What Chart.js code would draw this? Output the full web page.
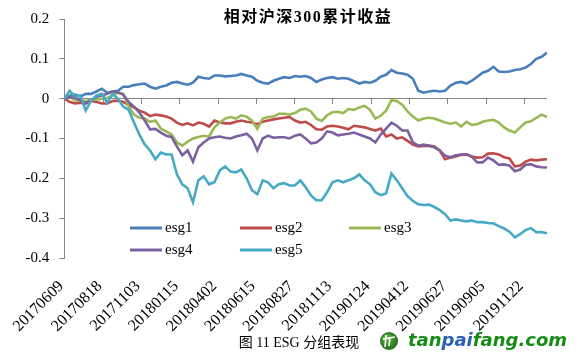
<!DOCTYPE html>
<html>
<head>
<meta charset="utf-8">
<script src="https://cdn.jsdelivr.net/npm/chart.js@4.4.0/dist/chart.umd.min.js"></script>
<style>
  html, body { margin: 0; padding: 0; background: #ffffff; }
</style>
</head>
<body>
<canvas id="esgGraf" width="577" height="361"></canvas>
<script>
// Handelsdag for hvert punkt (et punkt pr. 7 handelsdage)
var sampleDays = [];
for (var i = 0; i <= 90; i++) sampleDays.push(i * 7);

// Datolabels, en for hver 50. handelsdag
var tickLabels = ["20170609", "20170818", "20171103", "20180115", "20180402", "20180615", "20180827",
  "20181113", "20190124", "20190412", "20190627", "20190905", "20191122"];

var seriesNames = ["esg1", "esg2", "esg3", "esg4", "esg5"];
var seriesColors = ["#4a7ebb", "#be4b48", "#98b954", "#7d60a0", "#46aac5"];

var esg1 = [0, 0.008, 0.01, 0.005, 0.012, 0.012, 0.018, 0.025, 0.015, 0.018,
  0.02, 0.03, 0.03, 0.034, 0.036, 0.038, 0.03, 0.025, 0.03, 0.033,
  0.04, 0.042, 0.038, 0.035, 0.04, 0.055, 0.052, 0.05, 0.058, 0.058,
  0.056, 0.057, 0.058, 0.062, 0.058, 0.055, 0.045, 0.04, 0.038, 0.045,
  0.05, 0.054, 0.052, 0.057, 0.055, 0.057, 0.052, 0.042, 0.048, 0.052,
  0.054, 0.05, 0.052, 0.05, 0.044, 0.038, 0.042, 0.04, 0.045, 0.055,
  0.06, 0.072, 0.065, 0.063, 0.06, 0.05, 0.02, 0.015, 0.018, 0.02,
  0.018, 0.02, 0.033, 0.04, 0.042, 0.038, 0.045, 0.055, 0.065, 0.07,
  0.08, 0.068, 0.067, 0.068, 0.072, 0.074, 0.078, 0.087, 0.1, 0.105,
  0.116];

var esg2 = [0, -0.008, -0.012, -0.01, -0.012, -0.006, -0.008, -0.012, -0.012, -0.006,
  -0.005, -0.008, -0.016, -0.022, -0.03, -0.035, -0.044, -0.04, -0.042, -0.045,
  -0.05, -0.06, -0.066, -0.062, -0.067, -0.06, -0.063, -0.07, -0.055, -0.06,
  -0.062, -0.062, -0.058, -0.055, -0.058, -0.06, -0.064, -0.058, -0.055, -0.052,
  -0.05, -0.048, -0.046, -0.055, -0.06, -0.058, -0.066, -0.077, -0.078, -0.07,
  -0.068, -0.07, -0.073, -0.077, -0.068, -0.07, -0.072, -0.076, -0.08, -0.075,
  -0.095, -0.09, -0.1, -0.097, -0.106, -0.115, -0.12, -0.119, -0.118, -0.12,
  -0.13, -0.152, -0.148, -0.145, -0.141, -0.14, -0.145, -0.148, -0.147, -0.138,
  -0.137, -0.14, -0.147, -0.15, -0.17, -0.168, -0.158, -0.153, -0.155, -0.153,
  -0.152];

var esg3 = [0, 0.005, -0.004, -0.005, -0.006, -0.003, -0.002, 0, 0.002, 0.008,
  0.015, 0.012, -0.02, -0.04, -0.048, -0.05, -0.058, -0.055, -0.075, -0.082,
  -0.09, -0.11, -0.118, -0.108, -0.1, -0.096, -0.093, -0.095, -0.072, -0.06,
  -0.05, -0.046, -0.05, -0.042, -0.045, -0.055, -0.076, -0.05, -0.046, -0.045,
  -0.038, -0.038, -0.04, -0.036, -0.028, -0.025, -0.032, -0.05, -0.056, -0.042,
  -0.034, -0.033, -0.036, -0.026, -0.028, -0.022, -0.018, -0.028, -0.05, -0.043,
  -0.03, -0.004, -0.006, -0.015, -0.032, -0.045, -0.055, -0.05, -0.048, -0.05,
  -0.055, -0.06, -0.063, -0.06, -0.07, -0.058, -0.066, -0.064, -0.058, -0.055,
  -0.053, -0.06, -0.072, -0.08, -0.085, -0.072, -0.06, -0.057, -0.048, -0.04,
  -0.046];

var esg4 = [0, 0.004, 0.002, -0.004, -0.012, -0.004, 0.005, 0.008, 0.012, 0.018,
  0.016, 0.01, -0.008, -0.02, -0.035, -0.055, -0.077, -0.076, -0.085, -0.093,
  -0.096, -0.12, -0.142, -0.13, -0.158, -0.122, -0.11, -0.1, -0.097, -0.095,
  -0.098, -0.1, -0.095, -0.092, -0.088, -0.1, -0.13, -0.1, -0.093, -0.098,
  -0.097, -0.097, -0.1, -0.093, -0.09, -0.1, -0.112, -0.11, -0.1, -0.082,
  -0.085, -0.092, -0.09, -0.088, -0.085, -0.09, -0.095, -0.1, -0.11, -0.09,
  -0.075, -0.06, -0.068, -0.08, -0.08, -0.11, -0.118, -0.115, -0.118, -0.122,
  -0.13, -0.143, -0.147, -0.142, -0.14, -0.14, -0.146, -0.16, -0.16, -0.148,
  -0.155, -0.166, -0.165, -0.168, -0.182, -0.178, -0.166, -0.165, -0.17, -0.172,
  -0.173];

var esg5 = [0, 0.02, 0.006, 0.008, -0.03, -0.005, 0.008, 0.012, -0.01, 0.012,
  0, -0.02, -0.028, -0.06, -0.09, -0.115, -0.13, -0.152, -0.135, -0.14,
  -0.14, -0.19, -0.215, -0.225, -0.26, -0.205, -0.195, -0.215, -0.21, -0.18,
  -0.17, -0.183, -0.185, -0.178, -0.2, -0.23, -0.24, -0.205, -0.21, -0.225,
  -0.215, -0.212, -0.218, -0.218, -0.205, -0.222, -0.243, -0.255, -0.255, -0.235,
  -0.21, -0.205, -0.21, -0.205, -0.2, -0.19, -0.205, -0.215, -0.235, -0.242,
  -0.238, -0.188, -0.205, -0.225, -0.245, -0.257, -0.265, -0.267, -0.266, -0.272,
  -0.28, -0.29, -0.306, -0.303, -0.306, -0.308, -0.306, -0.31, -0.31, -0.312,
  -0.313, -0.32, -0.326, -0.334, -0.348, -0.34, -0.33, -0.325, -0.335, -0.335,
  -0.338];

var seriesValues = [esg1, esg2, esg3, esg4, esg5];

var axisGrey = "#868686";
var serif = "'Liberation Serif', 'Noto Sans CJK SC', serif";

// Lav datasets ud fra arrays
var datasets = seriesNames.map(function (name, i) {
  return {
    label: name,
    data: seriesValues[i].map(function (v, j) {
      return { x: sampleDays[j], y: v };
    }),
    borderColor: seriesColors[i],
    backgroundColor: seriesColors[i],
    borderWidth: 2.6,
    pointRadius: 0,
    tension: 0,
    order: 5 - i, // sidste serie tegnes oeverst
  };
});

// Titel, legend, tekst under grafen og smaa streger ved nul-linjen
var pynt = {
  id: "pynt",
  beforeDatasetsDraw: function (chart) {
    var ctx = chart.ctx;
    var xs = chart.scales.x;
    var y0 = Math.round(chart.scales.y.getPixelForValue(0));
    ctx.save();
    ctx.strokeStyle = axisGrey;
    ctx.lineWidth = 1;
    ctx.beginPath();
    tickLabels.forEach(function (_, i) {
      var px = Math.round(xs.getPixelForValue(i * 50)) + 0.5;
      ctx.moveTo(px, y0);
      ctx.lineTo(px, y0 + 5);
    });
    ctx.stroke();
    ctx.restore();
  },
  afterDraw: function (chart) {
    var ctx = chart.ctx;
    ctx.save();

    // titel
    ctx.fillStyle = "#000";
    ctx.font = "bold 16px " + serif;
    ctx.textAlign = "center";
    ctx.textBaseline = "middle";
    ctx.letterSpacing = "1.5px";
    ctx.fillText("相对沪深300累计收益", 308, 18);
    ctx.letterSpacing = "0px";

    // legend i to raekker
    var legendPos = [[130, 228], [240, 228], [349, 228], [130, 250], [240, 250]];
    ctx.font = "15px " + serif;
    ctx.textAlign = "left";
    chart.data.datasets.forEach(function (ds, i) {
      var p = legendPos[i];
      ctx.strokeStyle = ds.borderColor;
      ctx.lineWidth = 3;
      ctx.beginPath();
      ctx.moveTo(p[0], p[1]);
      ctx.lineTo(p[0] + 32, p[1]);
      ctx.stroke();
      ctx.fillStyle = "#000";
      ctx.fillText(ds.label, p[0] + 35, p[1]);
    });

    // tekst under grafen
    ctx.font = "14px " + serif;
    ctx.textAlign = "center";
    ctx.fillText("图 11 ESG 分组表现", 299, 343);

    // vandmaerke
    var grad = ctx.createRadialGradient(386, 337, 1, 389, 341, 9);
    grad.addColorStop(0, "#6cbf3a");
    grad.addColorStop(1, "#1f6e22");
    ctx.fillStyle = grad;
    ctx.beginPath();
    ctx.arc(389, 341, 9, 0, Math.PI * 2);
    ctx.fill();
    ctx.strokeStyle = "#ffffff";
    ctx.lineWidth = 1.5;
    ctx.beginPath();
    ctx.moveTo(386, 335);
    ctx.lineTo(385, 347);
    ctx.moveTo(383, 339);
    ctx.lineTo(395, 337);
    ctx.moveTo(390, 338);
    ctx.lineTo(389, 346);
    ctx.stroke();

    ctx.font = "bold italic 18px 'DejaVu Sans', sans-serif";
    ctx.textAlign = "left";
    ctx.textBaseline = "alphabetic";
    var parts = [["tan", "#168c16"], ["pai", "#2a5fb5"], ["fang.com", "#168c16"]];
    var full = ctx.measureText("tanpaifang.com").width;
    var scale = 159 / full;
    var tx = 408;
    parts.forEach(function (p) {
      var w = ctx.measureText(p[0]).width * scale;
      ctx.fillStyle = p[1];
      ctx.fillText(p[0], tx, 346, w);
      tx += w;
    });

    ctx.restore();
  },
};

var ctxEsg = document.getElementById("esgGraf").getContext("2d");

var esgGraf = new Chart(ctxEsg, {
  type: "line",
  data: { datasets: datasets },
  options: {
    responsive: false,
    animation: false,
    layout: { padding: { top: 14, right: 30, left: 0, bottom: 0 } },
    plugins: {
      legend: { display: false },
      tooltip: { enabled: false },
    },
    scales: {
      x: {
        type: "linear",
        min: 0,
        max: 630,
        afterFit: function (scale) {
          scale.height = 103;
        },
        grid: { display: false, drawTicks: false },
        border: { display: false },
        ticks: {
          stepSize: 50,
          autoSkip: false,
          includeBounds: false,
          minRotation: 45,
          maxRotation: 45,
          padding: 19,
          labelOffset: -3,
          color: "#000",
          font: { family: serif, size: 16 },
          callback: function (v) {
            return tickLabels[v / 50] || "";
          },
        },
      },
      y: {
        min: -0.4,
        max: 0.2,
        afterFit: function (scale) {
          scale.width = 51;
        },
        grid: {
          color: function (c) {
            return c.tick && Math.abs(c.tick.value) < 1e-9 ? axisGrey : "rgba(0,0,0,0)";
          },
          tickColor: axisGrey,
          tickLength: 5,
        },
        border: { color: axisGrey },
        ticks: {
          stepSize: 0.1,
          padding: 10,
          color: "#000",
          font: { family: serif, size: 15 },
          callback: function (v) {
            return String(Math.round(v * 10) / 10);
          },
        },
      },
    },
  },
  plugins: [pynt],
});
</script>
</body>
</html>
